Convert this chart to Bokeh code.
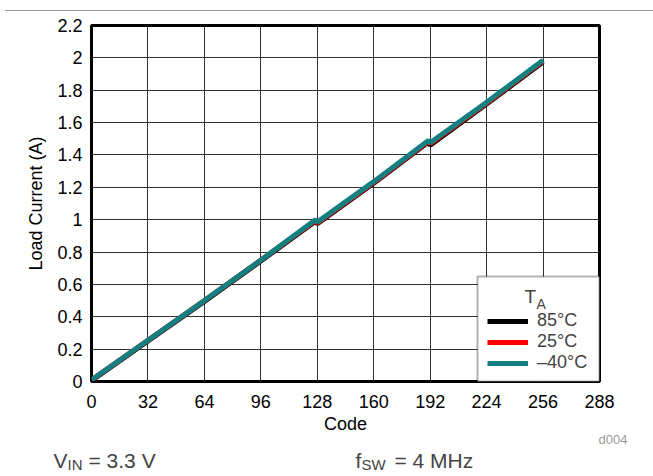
from bokeh.plotting import figure
from bokeh.models import (Range1d, FixedTicker, CustomJSTickFormatter, Legend, LegendItem, Label,
                          Title, BoxAnnotation, Div)
from bokeh.layouts import column
from bokeh.embed import file_html
from bokeh.resources import INLINE

# ---- data ----
code = [0, 32, 64, 96, 127, 128, 160, 191, 192, 224, 256]
i_85 = [0.005, 0.250, 0.495, 0.745, 0.990, 0.975, 1.225, 1.480, 1.460, 1.715, 1.975]
i_25 = [0.010, 0.255, 0.500, 0.750, 0.995, 0.980, 1.230, 1.485, 1.470, 1.720, 1.980]
i_m40 = [0.010, 0.255, 0.500, 0.750, 1.000, 0.985, 1.235, 1.490, 1.475, 1.725, 1.985]
series_labels = ["85°C", "25°C", "\u201340°C"]
series_colors = ["#000000", "#ff0000", "#128080"]
x_ticks = [0, 32, 64, 96, 128, 160, 192, 224, 256, 288]
y_ticks = [0, 0.2, 0.4, 0.6, 0.8, 1.0, 1.2, 1.4, 1.6, 1.8, 2.0, 2.2]
x_title = "Code"
y_title = "Load Current (A)"
legend_title = ("T", "A")
note_id = "d004"
cond_vin = ("V", "IN", "= 3.3 V")
cond_fsw = ("f", "SW", "= 4 MHz")

FONT = "Liberation Sans"
W = 653
RULE_H = 16  # rendered height of the header rule strip

# ---- header rule ----
rule = Div(text="", width=W, height=6,
           styles={"border-bottom": "1.5px solid #9a9a9a", "box-sizing": "border-box",
                   "overflow": "hidden", "line-height": "0px", "font-size": "0px"})

# ---- main chart ----
MAIN_H = 431
p = figure(width=W, height=MAIN_H, output_backend="svg", toolbar_location=None,
           x_range=Range1d(0, 288), y_range=Range1d(0, 2.2),
           min_border_left=91, min_border_right=54, min_border_top=9, min_border_bottom=66)
p.frame_align = False
p.outline_line_color = "black"
p.outline_line_width = 3
p.background_fill_color = "white"
p.border_fill_color = "white"

for ax in (p.xaxis[0], p.yaxis[0]):
    ax.axis_line_color = None
    ax.major_tick_in = 0
    ax.major_tick_out = 0
    ax.minor_tick_line_color = None
    ax.major_label_text_font = FONT
    ax.major_label_text_font_size = "18px"
    ax.major_label_text_color = "black"
    ax.axis_label_text_font = FONT
    ax.axis_label_text_font_size = "18px"
    ax.axis_label_text_font_style = "normal"
    ax.axis_label_text_color = "black"

p.xaxis.ticker = FixedTicker(ticks=x_ticks)
p.yaxis.ticker = FixedTicker(ticks=y_ticks)
p.yaxis.formatter = CustomJSTickFormatter(code="return tick.toFixed(1).replace(/\\.0$/, '');")
p.xaxis.axis_label = x_title
p.yaxis.axis_label = y_title
p.xaxis.major_label_standoff = 13
p.yaxis.major_label_standoff = 9
p.xaxis.axis_label_standoff = 3
p.yaxis.axis_label_standoff = 8

p.grid.grid_line_color = "#303030"
p.grid.grid_line_width = 1

def dx(px):
    return (px - 91) / (508 / 288)

def dy(py):
    return (381 - py) / (356 / 2.2)

# legend box (drawn under the transparent legend)
p.add_layout(BoxAnnotation(left=dx(477), right=288, bottom=0, top=dy(276),
                           fill_color="white", fill_alpha=1, line_color="black", line_width=2,
                           level="glyph"))

renderers = []
for ys, c in zip([i_85, i_25, i_m40], series_colors):
    r = p.line(code, ys, line_color=c, line_width=5)
    renderers.append(r)

legend = Legend(items=[LegendItem(label=l, renderers=[r]) for l, r in zip(series_labels, renderers)],
                location=(396, 8), margin=0, padding=11, spacing=0,
                border_line_color=None, background_fill_alpha=0,
                label_text_font=FONT, label_text_font_size="18px",
                glyph_width=41, glyph_height=18, label_height=18, label_standoff=9)
p.add_layout(legend, "center")

p.add_layout(Label(x=dx(524), y=dy(296), text=legend_title[0], text_font=FONT, text_font_size="19px",
                   text_baseline="middle", level="overlay"))
p.add_layout(Label(x=dx(536), y=dy(303), text=legend_title[1], text_font=FONT, text_font_size="14px",
                   text_baseline="middle", level="overlay"))

p.add_layout(Title(text=note_id, align="right", offset=-28, standoff=-13, text_color="#9a9a9a",
                   text_font=FONT, text_font_size="13px", text_font_style="normal"), "below")

# ---- footnote strip ----
FOOT_TOP = RULE_H + MAIN_H
foot = figure(width=W, height=476 - FOOT_TOP, output_backend="svg", toolbar_location=None,
              x_range=Range1d(0, W), y_range=Range1d(476 - FOOT_TOP, 0),
              x_axis_location=None, y_axis_location=None, min_border=0)
foot.frame_align = False
foot.outline_line_color = None
foot.grid.visible = False

def flab(text, px, py, size):
    foot.add_layout(Label(x=px, y=py - FOOT_TOP, text=text, text_font=FONT, text_font_size=size,
                          text_align="left", text_baseline="middle"))

flab(cond_vin[0], 53, 460, "21px")
flab(cond_vin[1], 67, 464, "15px")
flab(cond_vin[2], 88, 460, "21px")
flab(cond_fsw[0], 355, 460, "21px")
flab(cond_fsw[1], 361, 464, "15px")
flab(cond_fsw[2], 394, 460, "21px")

layout = column(rule, p, foot, spacing=0)
open("out.html", "w").write(file_html(layout, INLINE))
